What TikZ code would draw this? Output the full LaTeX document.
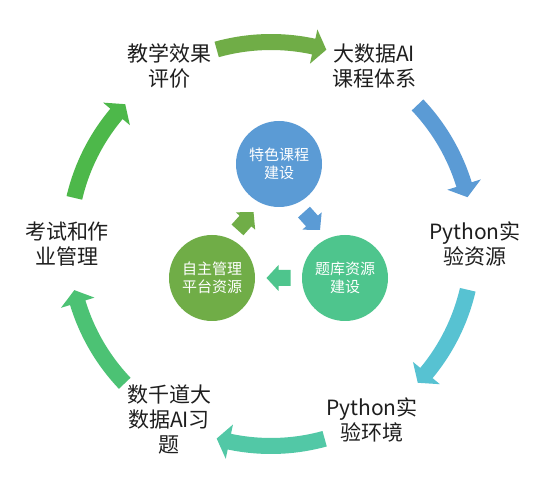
\documentclass[tikz,border=0pt]{standalone}
\usepackage{fontspec}
\newfontfamily\cjk{Noto Sans CJK SC}
\usetikzlibrary{calc}
\definecolor{cgreen}{HTML}{70AD47}
\definecolor{cblue}{HTML}{5B9BD5}
\definecolor{cteal}{HTML}{4EC58D}
\definecolor{ccyan}{HTML}{57C2D2}
\definecolor{cmint}{HTML}{52C8A6}
\definecolor{cgreenb}{HTML}{4CC274}
\definecolor{cgreenc}{HTML}{4DB84A}
\definecolor{ctext}{HTML}{1E1E1E}
\newcommand\ringarrow[3]{% colour, tail angle, tip angle
  \fill[#1, shift={(C)}] (#2:210pt) arc[start angle=#2, end angle={#3+3.7}, radius=210pt]
    -- ({#3+3.7}:219.5pt) -- (#3:202pt) -- ({#3+3.7}:184.5pt) -- ({#3+3.7}:194pt)
    arc[start angle={#3+3.7}, end angle=#2, radius=194pt] -- cycle;}
\newcommand\smallarrow[4]{% colour, from, to, angle
  \fill[#1, shift={($(#2)!0.5!(#3)$)}, rotate=#4]
    (-12,-8) -- (0,-8) -- (0,-13) -- (12,0) -- (0,13) -- (0,8) -- (-12,8) -- cycle;}
\begin{document}
\begin{tikzpicture}[x=1pt,y=1pt,
  lbl/.style={align=center, font=\cjk\fontsize{21}{25}\selectfont, text=ctext, inner sep=0pt},
  disc/.style={circle, minimum size=86pt, inner sep=0pt, align=center, text=white,
    font=\cjk\fontsize{15}{18}\selectfont}]
\useasboundingbox (0,0) rectangle (552,488);
\fill[white] (0,0) rectangle (552,488);
\coordinate (C) at (271,244);
% outer labels
\node[lbl] (l1) at (169.5,422) {教学效果\\评价};
\node[lbl] (l2) at (374,422) {大数据AI\\课程体系};
\node[lbl] (l3) at (475,244) {Python实\\验资源};
\node[lbl] (l4) at (372,68) {Python实\\验环境};
\node[lbl] (l5) at (169,69) {数千道大\\数据AI习\\题};
\node[lbl] (l6) at (67,244) {考试和作\\业管理};
% outer ring arrows
\ringarrow{cgreen}{105.6}{74.1}
\ringarrow{cblue}{43.5}{13.4}
\ringarrow{ccyan}{-13.1}{-43.4}
\ringarrow{cmint}{-74.6}{-105.6}
\ringarrow{cgreenb}{-136.4}{-166.8}
\ringarrow{cgreenc}{166.8}{136.2}
% inner circles
\node[disc, fill=cblue] (b) at (279,324) {特色课程\\建设};
\node[disc, fill=cgreen] (g) at (212,210) {自主管理\\平台资源};
\node[disc, fill=cteal] (t) at (345,210) {题库资源\\建设};
% inner arrows
\smallarrow{cgreen}{g}{b}{48}
\smallarrow{cblue}{b}{t}{-48}
\smallarrow{cteal}{t}{g}{180}
\end{tikzpicture}
\end{document}
